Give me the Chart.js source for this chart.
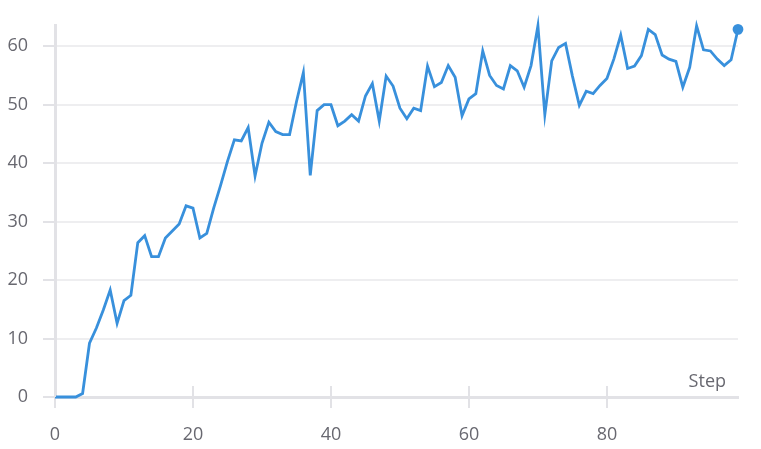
<!DOCTYPE html>
<html>
<head>
<meta charset="utf-8">
<script src="https://cdn.jsdelivr.net/npm/chart.js@4"></script>
<style>
  body { margin: 0; background: #fff; }
  #wrap { width: 761px; height: 449px; }
</style>
</head>
<body>
<div id="wrap"><canvas id="stepChart"></canvas></div>
<script>
const steps = [
    0, 1, 2, 3, 4, 5, 6, 7, 8, 9, 10, 11, 12, 13, 14, 15, 16, 17, 18, 19,
    20, 21, 22, 23, 24, 25, 26, 27, 28, 29, 30, 31, 32, 33, 34, 35, 36, 37, 38, 39,
    40, 41, 42, 43, 44, 45, 46, 47, 48, 49, 50, 51, 52, 53, 54, 55, 56, 57, 58, 59,
    60, 61, 62, 63, 64, 65, 66, 67, 68, 69, 70, 71, 72, 73, 74, 75, 76, 77, 78, 79,
    80, 81, 82, 83, 84, 85, 86, 87, 88, 89, 90, 91, 92, 93, 94, 95, 96, 97, 98, 99
];
const values = [
    0, 0, 0, 0, 0.6, 9.2, 11.8, 14.9, 18.3, 12.6, 16.5, 17.4, 26.4, 27.6, 24.0, 24.0, 27.2, 28.4, 29.6, 32.7,
    32.3, 27.2, 28.0, 32.3, 36.2, 40.3, 44.0, 43.8, 46.1, 37.8, 43.4, 47.0, 45.4, 44.9, 44.9, 50.5, 55.5, 37.9, 49.0, 50.0,
    50.0, 46.4, 47.2, 48.3, 47.2, 51.5, 53.6, 47.2, 54.9, 53.2, 49.4, 47.6, 49.4, 49.0, 56.6, 53.1, 53.8, 56.7, 54.7, 48.1,
    51.0, 51.9, 59.2, 55.0, 53.3, 52.7, 56.7, 55.8, 53.0, 56.7, 63.5, 48.3, 57.5, 59.8, 60.5, 54.9, 49.9, 52.3, 51.9, 53.3,
    54.5, 57.8, 61.9, 56.2, 56.6, 58.4, 62.9, 62.0, 58.5, 57.8, 57.4, 53.0, 56.4, 63.5, 59.4, 59.2, 57.8, 56.7, 57.7, 62.9
];
const xTitle = "Step";

const lineColor = 'rgb(56, 144, 220)';
const textColor = 'rgb(104, 104, 112)';
const gridColor = 'rgb(238, 238, 240)';
const axisColor = 'rgb(226, 226, 230)';

// short tick marks above the x axis plus the "Step" label inside the plot
const axisExtras = {
    id: 'axisExtras',
    afterDraw(chart) {
        const ctx = chart.ctx;
        const xs = chart.scales.x;
        ctx.save();
        ctx.strokeStyle = axisColor;
        ctx.lineWidth = 2;
        xs.ticks.forEach(t => {
            const px = Math.round(xs.getPixelForValue(t.value));
            ctx.beginPath();
            ctx.moveTo(px, xs.top - 11);
            ctx.lineTo(px, xs.top);
            ctx.stroke();
        });
        ctx.fillStyle = textColor;
        ctx.font = '18px "Open Sans"';
        ctx.textAlign = 'right';
        ctx.textBaseline = 'alphabetic';
        ctx.fillText(xTitle, xs.right - 12, xs.top - 10);
        ctx.restore();
    }
};

const data = {
    datasets: [{
        label: 'Value',
        data: steps.map((s, i) => ({ x: s, y: values[i] })),
        borderColor: lineColor,
        backgroundColor: lineColor,
        borderWidth: 2.8,
        tension: 0,
        fill: false,
        clip: false,
        pointRadius: ctx => ctx.dataIndex === values.length - 1 ? 4 : 0,
        pointHoverRadius: 4
    }]
};

const config = {
    type: 'line',
    data: data,
    options: {
        responsive: true,
        maintainAspectRatio: false,
        animation: false,
        layout: {
            padding: { left: 0, top: 22, right: 23, bottom: 0 }
        },
        plugins: {
            legend: false,
            tooltip: { enabled: false }
        },
        scales: {
            x: {
                type: 'linear',
                min: 0,
                max: steps[steps.length - 1],
                afterFit: s => { s.height = 52; },
                border: { color: axisColor, width: 3 },
                grid: {
                    drawOnChartArea: false,
                    color: axisColor,
                    lineWidth: 2,
                    tickLength: 11
                },
                ticks: {
                    stepSize: 20,
                    includeBounds: false,
                    color: textColor,
                    padding: 16,
                    maxRotation: 0,
                    font: { family: '"Open Sans"', size: 18 }
                }
            },
            y: {
                min: 0,
                max: Math.max(...values),
                afterFit: s => { s.width = 55; },
                border: { color: axisColor, width: 3 },
                grid: {
                    color: gridColor,
                    lineWidth: 2,
                    tickLength: 12,
                    tickColor: axisColor
                },
                ticks: {
                    stepSize: 10,
                    includeBounds: false,
                    color: textColor,
                    padding: 15,
                    font: { family: '"Open Sans"', size: 18 }
                }
            }
        }
    },
    plugins: [axisExtras]
};

const stepChart = new Chart(document.getElementById('stepChart'), config);
</script>
</body>
</html>
